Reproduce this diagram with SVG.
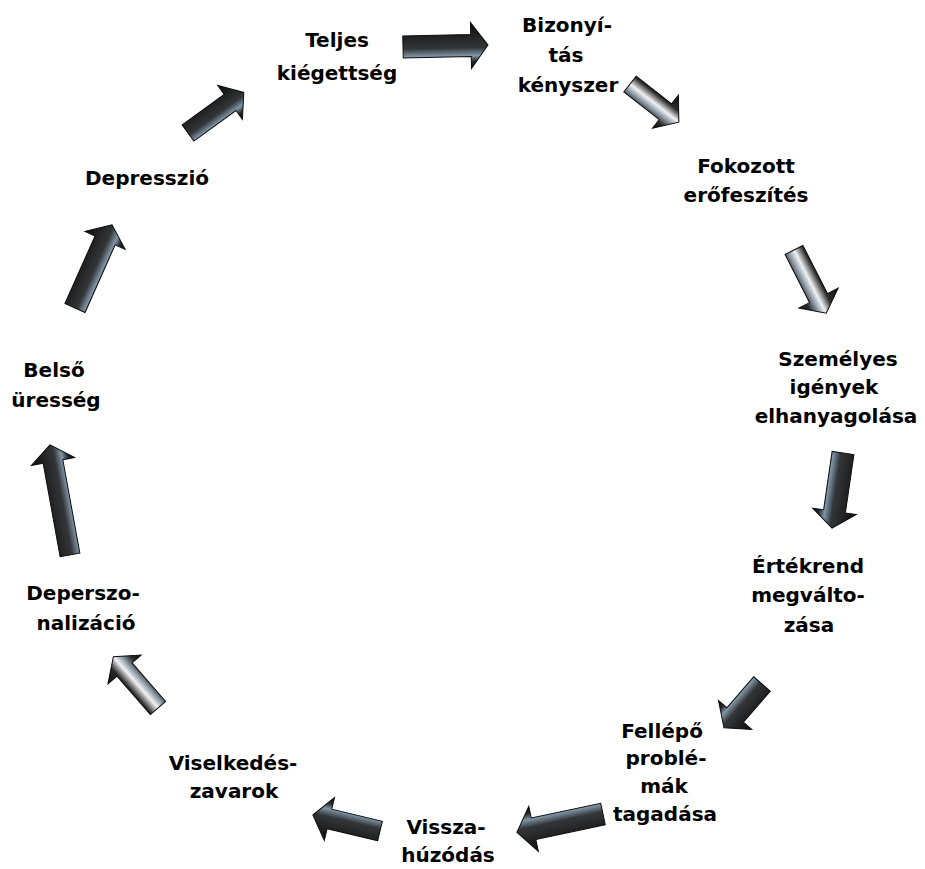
<svg xmlns="http://www.w3.org/2000/svg" width="925" height="869" viewBox="0 0 925 869">
<style>
.lbl{font-family:"DejaVu Sans","Liberation Sans",sans-serif;font-weight:bold;font-size:20px;fill:#000;text-anchor:middle}
.arD{fill:url(#gD);stroke:#0d0d0d;stroke-width:1;stroke-linejoin:miter}
.arL{fill:url(#gL);stroke:#0d0d0d;stroke-width:1;stroke-linejoin:miter}
</style>
<defs>
<linearGradient id="gD" x1="0" y1="0" x2="0" y2="1">
<stop offset="0" stop-color="#0d0d0d"/>
<stop offset="0.3" stop-color="#232323"/>
<stop offset="0.55" stop-color="#333639"/>
<stop offset="0.72" stop-color="#7f95a6"/>
<stop offset="0.85" stop-color="#25282b"/>
<stop offset="1" stop-color="#0a0a0a"/>
</linearGradient>
<linearGradient id="gL" x1="0" y1="0" x2="0" y2="1">
<stop offset="0" stop-color="#111"/>
<stop offset="0.3" stop-color="#2a2a2a"/>
<stop offset="0.5" stop-color="#f2f2f2"/>
<stop offset="0.62" stop-color="#9aa8b4"/>
<stop offset="0.8" stop-color="#2a2a2a"/>
<stop offset="1" stop-color="#0d0d0d"/>
</linearGradient>
</defs>
<rect width="925" height="869" fill="#fff"/>
<g id="connectors">
<path class="arD" transform="translate(403,47) rotate(-1.3)" d="M0,-11 H68 V-23 L85,0 L68,23 V11 H0 Z"/>
<path class="arL" transform="translate(630,84) rotate(38)" d="M0,-10 H45 V-21 L62,0 L45,21 V10 H0 Z"/>
<path class="arL" transform="translate(794,250) rotate(63)" d="M0,-10 H54 V-22 L71,0 L54,22 V10 H0 Z"/>
<path class="arD" transform="translate(843,453) rotate(98.3)" d="M0,-11 H59 V-22 L76,0 L59,22 V11 H0 Z"/>
<path class="arD" transform="translate(762,684) rotate(131)" d="M0,-11 H41 V-22 L58,0 L41,22 V11 H0 Z"/>
<path class="arD" transform="translate(603,814) rotate(168)" d="M0,-11 H71 V-23 L88,0 L71,23 V11 H0 Z"/>
<path class="arD" transform="translate(380,831) rotate(193.4)" d="M0,-10 H52 V-22 L69,0 L52,22 V10 H0 Z"/>
<path class="arL" transform="translate(158,708) rotate(229)" d="M0,-10 H51 V-22 L68,0 L51,22 V10 H0 Z"/>
<path class="arD" transform="translate(70,555) rotate(259.7)" d="M0,-10 H95 V-22 L112,0 L95,22 V10 H0 Z"/>
<path class="arD" transform="translate(75,308) rotate(-66)" d="M0,-11 H74 V-22 L91,0 L74,22 V11 H0 Z"/>
<path class="arD" transform="translate(188,133) rotate(-36)" d="M0,-10 H52 V-21 L69,0 L52,21 V10 H0 Z"/>
</g>
<g id="n-teljes"><text class="lbl" x="337" y="47">Teljes</text><text class="lbl" x="337" y="80">kiégettség</text></g>
<g id="n-bizonyitas"><text class="lbl" x="567" y="32">Bizonyí-</text><text class="lbl" x="566" y="62">tás</text><text class="lbl" x="568" y="92">kényszer</text></g>
<g id="n-fokozott"><text class="lbl" x="746" y="173">Fokozott</text><text class="lbl" x="746" y="202">erőfeszítés</text></g>
<g id="n-szemelyes"><text class="lbl" x="838" y="366">Személyes</text><text class="lbl" x="834" y="394">igények</text><text class="lbl" x="836" y="423">elhanyagolása</text></g>
<g id="n-ertekrend"><text class="lbl" x="808" y="573">Értékrend</text><text class="lbl" x="808" y="602">megválto-</text><text class="lbl" x="809" y="632">zása</text></g>
<g id="n-fellepo"><text class="lbl" x="662" y="738">Fellépő</text><text class="lbl" x="666" y="765">problé-</text><text class="lbl" x="664" y="793">mák</text><text class="lbl" x="665" y="821">tagadása</text></g>
<g id="n-visszahuzodas"><text class="lbl" x="446" y="834">Vissza-</text><text class="lbl" x="448" y="862">húzódás</text></g>
<g id="n-viselkedes"><text class="lbl" x="233" y="770">Viselkedés-</text><text class="lbl" x="234" y="798">zavarok</text></g>
<g id="n-deperszonalizacio"><text class="lbl" x="83" y="600">Deperszo-</text><text class="lbl" x="86" y="630">nalizáció</text></g>
<g id="n-belso"><text class="lbl" x="54" y="377">Belső</text><text class="lbl" x="56" y="407">üresség</text></g>
<g id="n-depresszio"><text class="lbl" x="147" y="185">Depresszió</text></g>
</svg>
